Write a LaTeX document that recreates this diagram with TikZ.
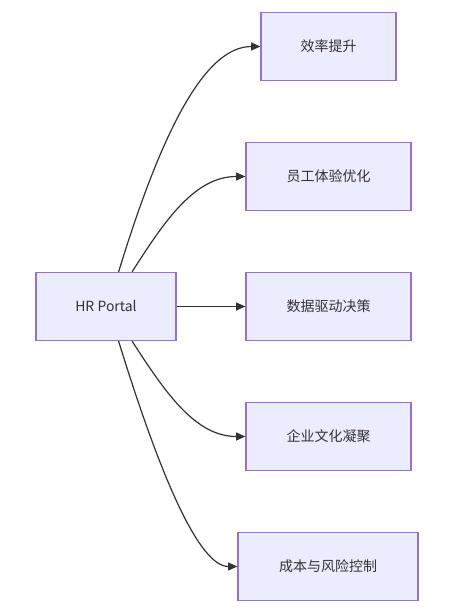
\documentclass[tikz,border=0pt]{standalone}
\usepackage{fontspec}
\setmainfont{Noto Sans CJK SC}
\usetikzlibrary{arrows.meta, positioning}

\definecolor{boxfill}{HTML}{ECECFF}
\definecolor{boxline}{HTML}{9370DB}
\definecolor{linkcol}{HTML}{333333}

\begin{document}
\begin{tikzpicture}[x=0.75pt, y=-0.75pt,
    box/.style={draw=boxline, fill=boxfill, line width=0.9pt, minimum height=51pt, font=\fontsize{10.5}{12}\selectfont, text=linkcol, inner sep=0pt},
    link/.style={draw=linkcol, line width=0.9pt, -{Triangle[length=7pt, width=6pt]}}]
    \useasboundingbox (0,0) rectangle (460,615);

    % source
    \node[box, minimum width=105pt] (hr) at (106, 306.5) {HR Portal};

    % goals
    \node[box, minimum width=101.25pt] (eff) at (328.5, 46.5) {效率提升};
    \node[box, minimum width=123.75pt] (exp) at (328.5, 176.5) {员工体验优化};
    \node[box, minimum width=123.75pt] (data) at (328.5, 306.5) {数据驱动决策};
    \node[box, minimum width=123.75pt] (cult) at (328.5, 436.5) {企业文化凝聚};
    \node[box, minimum width=135pt] (cost) at (328, 566.5) {成本与风险控制};

    % links
    \draw[link] (hr.70) .. controls (162, 130) and (205, 46.5) .. (eff.west);
    \draw[link] (hr.53) .. controls (165, 220) and (195, 176.5) .. (exp.west);
    \draw[link] (hr.east) -- (data.west);
    \draw[link] (hr.-53) .. controls (165, 392) and (195, 436.5) .. (cult.west);
    \draw[link] (hr.-70) .. controls (162, 482) and (200, 566.5) .. (cost.west);
\end{tikzpicture}
\end{document}
